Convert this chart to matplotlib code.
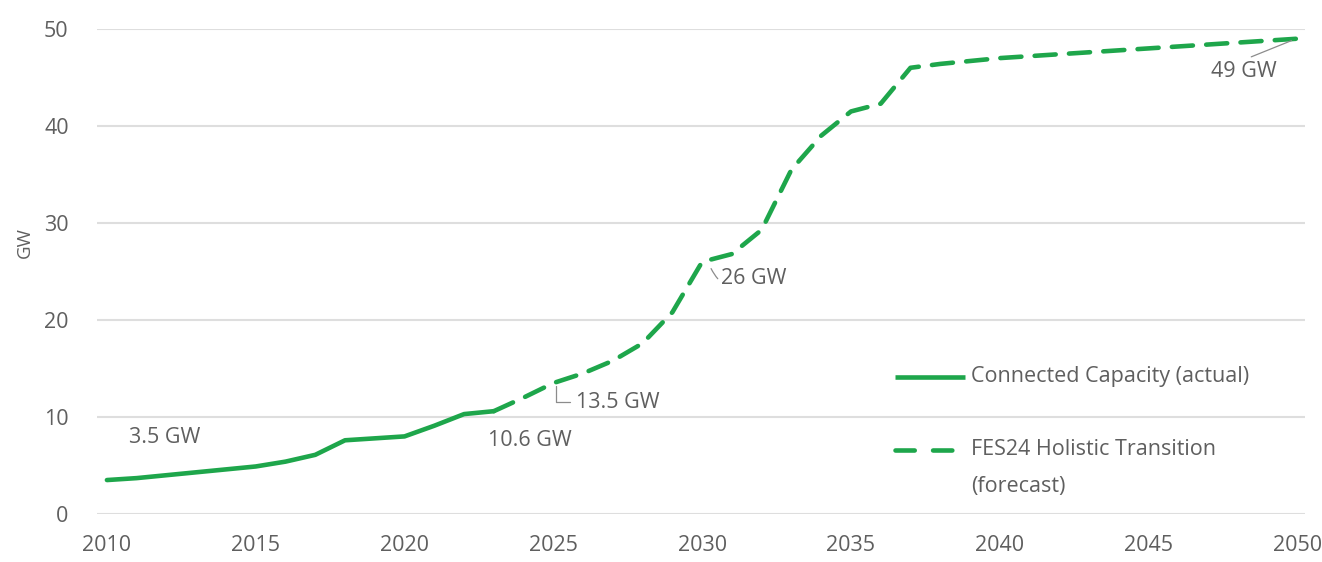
import matplotlib.pyplot as plt

# Connected capacity (actual), GW
actual_years = list(range(2010, 2024))
actual_gw = [3.5, 3.7, 4.0, 4.3, 4.6, 4.9, 5.4, 6.1, 7.6, 7.8, 8.0, 9.1, 10.3, 10.6]

# FES24 Holistic Transition (forecast), GW
forecast_years = list(range(2023, 2051))
forecast_gw = [10.6, 12.0, 13.5, 14.5, 15.8, 17.6, 20.8, 26.0, 26.8, 29.3, 35.5, 39.0,
               41.5, 42.3, 46.0, 46.4, 46.7, 47.0, 47.2, 47.4, 47.6, 47.8, 48.0,
               48.2, 48.4, 48.6, 48.8, 49.0]

x_ticks = [2010, 2015, 2020, 2025, 2030, 2035, 2040, 2045, 2050]
y_ticks = [0, 10, 20, 30, 40, 50]

legend_labels = ["Connected Capacity (actual)", "FES24 Holistic Transition", "(forecast)"]

GREEN = "#1ea64b"
GREY = "#5f5f5f"
LEADER = "#8c8c8c"
FS = 15.5
DASH = (4.6, 2.9)

plt.rcParams["font.family"] = ["Open Sans", "DejaVu Sans"]

fig = plt.figure(figsize=(13.22, 5.62), dpi=100)
ax = fig.add_axes([0.073, 0.0854, 0.914, 0.8630])

ax.plot(actual_years, actual_gw, color=GREEN, lw=3.3, solid_capstyle="round",
        solid_joinstyle="round", zorder=3)
ax.plot(forecast_years, forecast_gw, color=GREEN, lw=3.3, dashes=DASH,
        dash_capstyle="round", dash_joinstyle="round", zorder=3)

ax.set_xlim(2009.65, 2050.25)
ax.set_ylim(0, 50)
ax.set_xticks(x_ticks)
ax.set_yticks(y_ticks)
ax.tick_params(axis="both", length=0, labelsize=FS, colors=GREY)
ax.tick_params(axis="x", pad=15)
ax.tick_params(axis="y", pad=20)
ax.grid(axis="y", color="#dedede", lw=1.5)
ax.set_axisbelow(True)
for s in ax.spines.values():
    s.set_visible(False)

ax.set_ylabel("GW", color=GREY, fontsize=13.5)
ax.yaxis.set_label_coords(-0.052, 0.56)

# Value labels
lab = dict(color=GREY, fontsize=FS)
ax.text(2010.75, 7.9, "3.5 GW", ha="left", va="center", **lab)
ax.text(2024.2, 7.6, "10.6 GW", ha="center", va="center", **lab)
ax.annotate("13.5 GW", xy=(2025.1, 13.2), xytext=(2025.75, 11.5),
            ha="left", va="center", **lab,
            arrowprops=dict(arrowstyle="-", color=LEADER, lw=0.9,
                            shrinkA=2, shrinkB=0,
                            connectionstyle="angle,angleA=180,angleB=90,rad=0"))
ax.annotate("26 GW", xy=(2030.3, 25.3), xytext=(2030.65, 24.3),
            ha="left", va="center", **lab,
            arrowprops=dict(arrowstyle="-", color=LEADER, lw=0.9,
                            shrinkA=1, shrinkB=0,
                            connectionstyle="arc3,rad=-0.6"))
ax.annotate("49 GW", xy=(2049.8, 48.8), xytext=(2048.2, 45.6),
            ha="center", va="center", **lab,
            arrowprops=dict(arrowstyle="-", color=LEADER, lw=0.9,
                            shrinkA=3, shrinkB=0, relpos=(0.45, 1.0)))

# Legend, laid out in axes fractions
tr = ax.transAxes
ax.plot([0.661, 0.7185], [0.2825, 0.2825], transform=tr, color=GREEN, lw=3.3,
        solid_capstyle="butt", clip_on=False)
ax.plot([0.661, 0.7185], [0.132, 0.132], transform=tr, color=GREEN, lw=3.3,
        dashes=(4.2, 4.0), dash_capstyle="round", clip_on=False)
leg = dict(transform=tr, color=GREY, fontsize=FS, ha="left", va="center")
ax.text(0.724, 0.2825, legend_labels[0], **leg)
ax.text(0.724, 0.132, legend_labels[1], **leg)
ax.text(0.724, 0.0557, legend_labels[2], **leg)

fig.savefig("out.png", dpi=100, facecolor="white")
